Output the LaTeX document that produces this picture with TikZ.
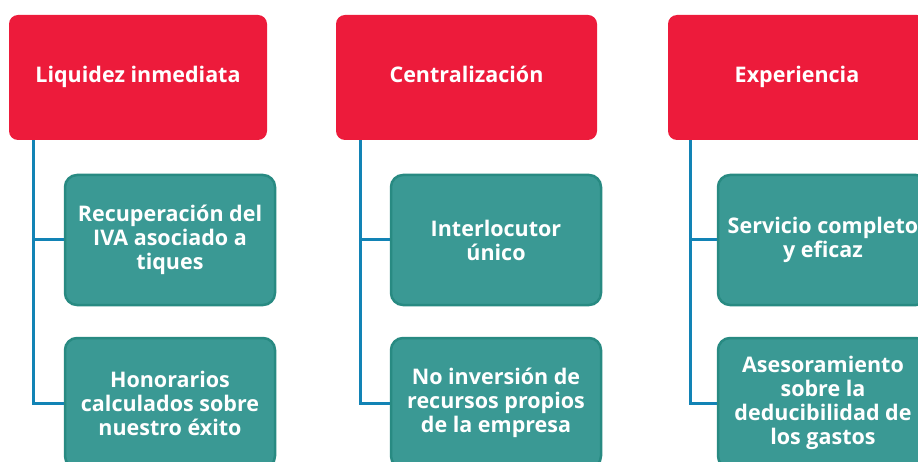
\documentclass[tikz,border=0pt]{standalone}
\usepackage{fontspec}
\setmainfont{Open Sans}
\usetikzlibrary{positioning}
\definecolor{headred}{RGB}{237,27,59}
\definecolor{tealfill}{RGB}{58,153,148}
\definecolor{tealline}{RGB}{40,138,130}
\definecolor{linkblue}{RGB}{18,131,181}
\tikzstyle{head} = [rectangle, rounded corners=9pt, minimum width=258pt, minimum height=125pt, text centered, text height=15pt, text depth=5pt, fill=headred, text=white, font=\bfseries\fontsize{21.5}{25}\selectfont]
\tikzstyle{item} = [rectangle, rounded corners=12pt, minimum width=210pt, minimum height=130pt, align=center, draw=tealline, line width=2.5pt, fill=tealfill, text=white, font=\bfseries\fontsize{21.5}{24}\selectfont]
\tikzstyle{link} = [linkblue, line width=3pt]

\begin{document}
\begin{tikzpicture}[x=1pt,y=1pt]
            \useasboundingbox (0,0) rectangle (918,-462);
            \node[head] (h1) at (138,-77.5) {Liquidez inmediata};
            \node[head, minimum width=261pt] (h2) at (466.5,-77.5) {Centralización};
            \node[head] (h3) at (797,-77.5) {Experiencia};
            \node[item] (a1) at (170,-240) {Recuperación del\\IVA asociado a\\tiques};
            \node[item] (a2) at (170,-403) {Honorarios\\calculados sobre\\nuestro éxito};
            \node[item] (b1) at (496,-240) {Interlocutor\\único};
            \node[item] (b2) at (496,-403) {No inversión de\\recursos propios\\de la empresa};
            \node[item] (c1) at (823,-240) {Servicio completo\\y eficaz};
            \node[item] (c2) at (823,-403) {Asesoramiento\\sobre la\\deducibilidad de\\los gastos};
            \draw[link] ([xshift=25pt]h1.south west) |- (a1.west);
            \draw[link] ([xshift=25pt]h1.south west) |- (a2.west);
            \draw[link] ([xshift=25pt]h2.south west) |- (b1.west);
            \draw[link] ([xshift=25pt]h2.south west) |- (b2.west);
            \draw[link] ([xshift=23pt]h3.south west) |- (c1.west);
            \draw[link] ([xshift=23pt]h3.south west) |- (c2.west);
        \end{tikzpicture}
\end{document}
